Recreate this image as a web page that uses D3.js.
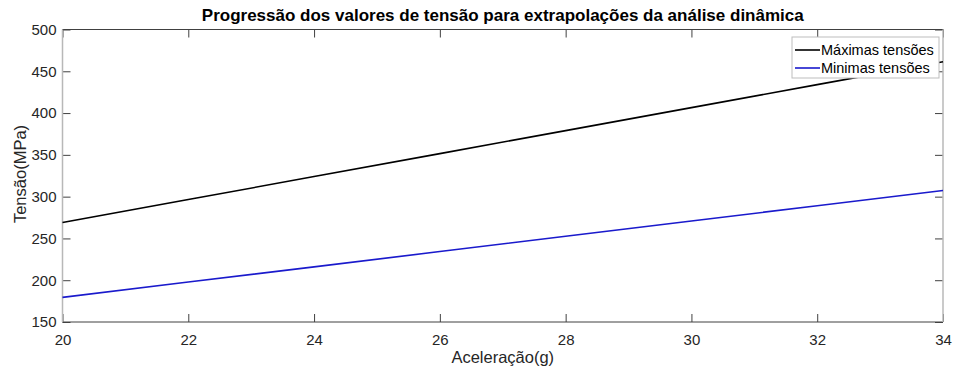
<!DOCTYPE html>
<html>
<head>
<meta charset="utf-8">
<script src="https://cdn.jsdelivr.net/npm/d3@7/dist/d3.min.js"></script>
<style>
  body { margin: 0; background: #fff; }
  svg { font-family: "Liberation Sans", Arial, sans-serif; }
</style>
</head>
<body>
<div class="chart"></div>
<script>
// acceleration (g) and stress (MPa)
var accel = [20, 22, 24, 26, 28, 30, 32, 34];
var maxStress = [269, 296.5, 324, 351.5, 379, 406.5, 434, 461.5];
var minStress = [179.5, 197.8, 216, 234.3, 252.6, 270.9, 289.1, 307.4];
var xTicks = [20, 22, 24, 26, 28, 30, 32, 34];
var yTicks = [150, 200, 250, 300, 350, 400, 450, 500];
var seriesNames = ['Máximas tensões', 'Minimas tensões'];
var seriesColors = ['#000000', '#1a1acc'];

const width = 955, height = 371;
const margin = {top: 29.5, right: 12, bottom: 49, left: 62.5};
const graphWidth = width - margin.left - margin.right;
const graphHeight = height - margin.top - margin.bottom;

const svg = d3.select('.chart')
  .append('svg')
    .attr('width', width)
    .attr('height', height);

const graph = svg.append('g')
  .attr('transform', `translate(${margin.left}, ${margin.top})`);

const x = d3.scaleLinear().domain([20, 34]).range([0, graphWidth]);
const y = d3.scaleLinear().domain([150, 500]).range([graphHeight, 0]);

// axes, ticks inward like matlab
const xAxis = d3.axisBottom(x).tickValues(xTicks).tickSize(-8).tickPadding(12).tickSizeOuter(0);
const yAxis = d3.axisLeft(y).tickValues(yTicks).tickSize(-8).tickPadding(6).tickSizeOuter(0);

const xAxisGroup = graph.append('g')
  .attr('transform', `translate(0, ${graphHeight})`)
  .call(xAxis);
const yAxisGroup = graph.append('g').call(yAxis);

// top and right ticks without labels
graph.append('g')
  .call(d3.axisTop(x).tickValues(xTicks).tickSize(-8).tickSizeOuter(0).tickFormat(''));
graph.append('g')
  .attr('transform', `translate(${graphWidth}, 0)`)
  .call(d3.axisRight(y).tickValues(yTicks).tickSize(-8).tickSizeOuter(0).tickFormat(''));

graph.selectAll('.domain').remove();
graph.selectAll('.tick line').attr('stroke', '#404040');
graph.selectAll('.tick text')
  .attr('fill', '#262626')
  .style('font-size', '15px');

// box: top/bottom dark, sides light
graph.append('line').attr('x1', 0).attr('x2', graphWidth).attr('y1', 0).attr('y2', 0)
  .attr('stroke', '#404040');
graph.append('line').attr('x1', 0).attr('x2', graphWidth).attr('y1', graphHeight).attr('y2', graphHeight)
  .attr('stroke', '#404040');
graph.append('line').attr('x1', 0).attr('x2', 0).attr('y1', 0).attr('y2', graphHeight)
  .attr('stroke', '#b8b8b8').attr('stroke-width', 1.5);
graph.append('line').attr('x1', graphWidth).attr('x2', graphWidth).attr('y1', 0).attr('y2', graphHeight)
  .attr('stroke', '#b8b8b8').attr('stroke-width', 1.5);

// lines
const line = d3.line()
  .x((d, i) => x(accel[i]))
  .y(d => y(d));

[maxStress, minStress].forEach((s, i) => {
  graph.append('path')
    .datum(s)
    .attr('fill', 'none')
    .attr('stroke', seriesColors[i])
    .attr('stroke-width', 1.6)
    .attr('d', line);
});

// legend
const legend = svg.append('g').attr('transform', 'translate(792, 37)');
legend.append('rect')
  .attr('width', 147).attr('height', 41)
  .attr('fill', '#fff')
  .attr('stroke', '#bdbdbd');
seriesNames.forEach((name, i) => {
  const yy = 13 + i * 18;
  legend.append('line')
    .attr('x1', 3).attr('x2', 28).attr('y1', yy).attr('y2', yy)
    .attr('stroke', seriesColors[i]).attr('stroke-width', 1.6);
  legend.append('text')
    .attr('x', 29).attr('y', yy + 5)
    .attr('fill', '#000')
    .style('font-size', '14.5px')
    .text(name);
});

// title and labels
svg.append('text')
  .attr('x', margin.left + graphWidth / 2).attr('y', 21)
  .attr('text-anchor', 'middle')
  .style('font-size', '17px').style('font-weight', 'bold')
  .attr('fill', '#000')
  .text('Progressão dos valores de tensão para extrapolações da análise dinâmica');

svg.append('text')
  .attr('x', margin.left + graphWidth / 2).attr('y', 363)
  .attr('text-anchor', 'middle')
  .style('font-size', '16.5px')
  .attr('fill', '#262626')
  .text('Aceleração(g)');

svg.append('text')
  .attr('transform', `translate(26, 174) rotate(-90)`)
  .attr('text-anchor', 'middle')
  .style('font-size', '16.5px')
  .attr('fill', '#262626')
  .text('Tensão(MPa)');
</script>
</body>
</html>
